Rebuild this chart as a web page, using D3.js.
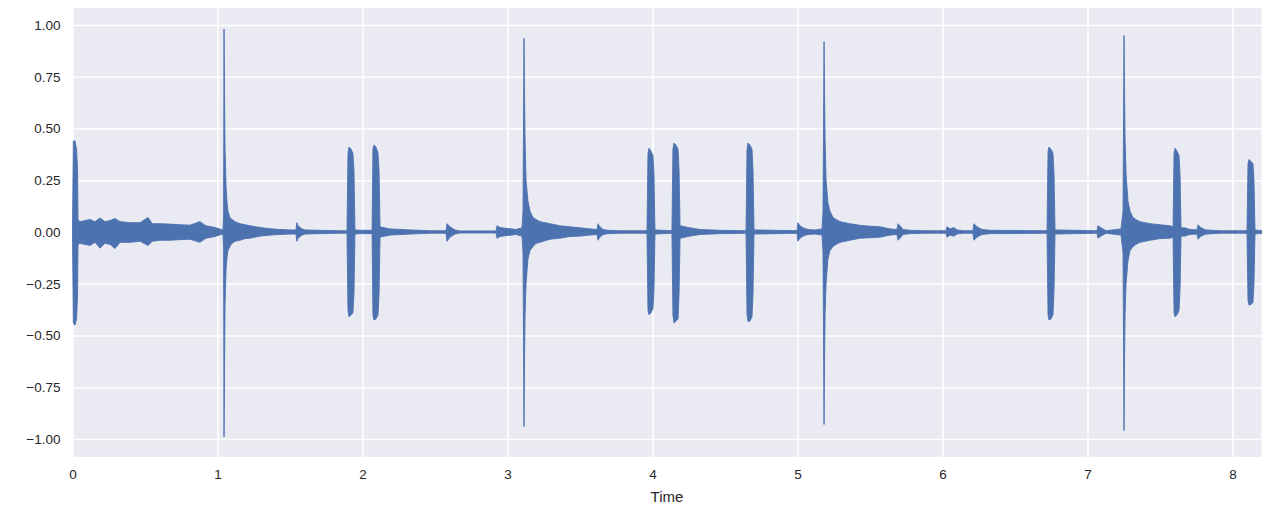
<!DOCTYPE html>
<html>
<head>
<meta charset="utf-8">
<script src="https://cdn.jsdelivr.net/npm/d3@7"></script>
<style>
  html, body { margin: 0; padding: 0; background: #ffffff; }
  svg { display: block; }
  text { font-family: "Liberation Sans", Arial, sans-serif; fill: #262626; }
</style>
</head>
<body>
<svg id="chart" width="1262" height="507"></svg>
<script>
// ---- data ----
const xTicks = [0, 1, 2, 3, 4, 5, 6, 7, 8];
const yTicks = [-1.0, -0.75, -0.5, -0.25, 0.0, 0.25, 0.5, 0.75, 1.0];
const xLabel = "Time";

// envelope of the waveform: time (s), upper and lower amplitude
const envTime = [
  0.000, 0.006, 0.017, 0.028, 0.035, 0.038, 0.052, 0.086, 0.121, 0.155, 0.190, 0.224, 0.259, 0.293, 0.328, 0.397, 0.466, 0.521, 0.550, 0.603, 0.672, 0.741, 0.810, 0.879, 0.920, 0.983, 1.024, 1.038,
  1.042, 1.045, 1.048, 1.052, 1.059, 1.066, 1.072, 1.086, 1.100, 1.121, 1.155, 1.190, 1.224, 1.293, 1.362, 1.431, 1.500, 1.541, 1.548, 1.555, 1.583, 1.603, 1.707, 1.845, 1.893,
  1.900, 1.907, 1.921, 1.934, 1.941, 1.948, 1.983, 2.066,
  2.072, 2.079, 2.093, 2.107, 2.114, 2.121, 2.190, 2.328, 2.466, 2.576, 2.583, 2.603, 2.638, 2.672, 2.921, 2.928, 2.948, 2.983, 3.031, 3.059, 3.100,
  3.107, 3.114, 3.117, 3.121, 3.128, 3.141, 3.155, 3.176, 3.197, 3.224, 3.293, 3.362, 3.431, 3.500, 3.569, 3.617, 3.624, 3.631, 3.659, 3.693, 3.776, 3.962,
  3.969, 3.976, 3.990, 4.003, 4.010, 4.017, 4.134,
  4.141, 4.148, 4.162, 4.176, 4.183, 4.190, 4.259, 4.328, 4.466, 4.645,
  4.652, 4.659, 4.672, 4.686, 4.693, 4.700, 4.997, 5.003, 5.017, 5.038, 5.072, 5.121, 5.169,
  5.176, 5.183, 5.186, 5.190, 5.197, 5.210, 5.224, 5.245, 5.266, 5.293, 5.362, 5.431, 5.500, 5.569, 5.638, 5.686, 5.693, 5.707, 5.728, 5.776, 5.879,
  6.024, 6.031, 6.052, 6.072, 6.079, 6.100, 6.141, 6.210, 6.217, 6.238, 6.272, 6.328, 6.534, 6.721,
  6.728, 6.734, 6.748, 6.762, 6.769, 6.776, 7.066, 7.072, 7.093, 7.128, 7.231,
  7.245, 7.252, 7.255, 7.259, 7.266, 7.279, 7.293, 7.314, 7.334, 7.362, 7.431, 7.500, 7.569, 7.590,
  7.597, 7.604, 7.617, 7.631, 7.638, 7.645, 7.672, 7.707, 7.755, 7.762, 7.783, 7.817, 7.914, 8.100,
  8.107, 8.114, 8.128, 8.141, 8.148, 8.155, 8.203
];
const envUpper = [
  0.020, 0.440, 0.440, 0.400, 0.300, 0.060, 0.050, 0.055, 0.060, 0.050, 0.068, 0.050, 0.055, 0.065, 0.050, 0.045, 0.045, 0.070, 0.040, 0.040, 0.038, 0.035, 0.033, 0.050, 0.030, 0.022, 0.012, 0.010,
  0.080, 0.980, 0.700, 0.400, 0.220, 0.140, 0.100, 0.070, 0.060, 0.050, 0.040, 0.035, 0.030, 0.022, 0.016, 0.012, 0.010, 0.010, 0.045, 0.030, 0.015, 0.010, 0.008, 0.006, 0.006,
  0.380, 0.410, 0.400, 0.380, 0.300, 0.010, 0.008, 0.008,
  0.400, 0.420, 0.410, 0.380, 0.300, 0.025, 0.015, 0.010, 0.006, 0.006, 0.040, 0.025, 0.010, 0.005, 0.005, 0.030, 0.022, 0.018, 0.015, 0.012, 0.020,
  0.100, 0.935, 0.700, 0.450, 0.250, 0.150, 0.100, 0.070, 0.060, 0.050, 0.040, 0.030, 0.025, 0.020, 0.015, 0.012, 0.040, 0.030, 0.012, 0.008, 0.006, 0.006,
  0.380, 0.405, 0.390, 0.370, 0.280, 0.010, 0.006,
  0.400, 0.430, 0.420, 0.400, 0.300, 0.030, 0.020, 0.012, 0.008, 0.006,
  0.400, 0.430, 0.420, 0.400, 0.300, 0.010, 0.006, 0.045, 0.030, 0.020, 0.012, 0.010, 0.015,
  0.100, 0.920, 0.700, 0.450, 0.250, 0.140, 0.100, 0.070, 0.060, 0.050, 0.040, 0.032, 0.028, 0.025, 0.015, 0.012, 0.040, 0.030, 0.012, 0.008, 0.006,
  0.006, 0.025, 0.015, 0.020, 0.020, 0.010, 0.006, 0.006, 0.040, 0.025, 0.012, 0.008, 0.007, 0.006,
  0.390, 0.410, 0.400, 0.380, 0.280, 0.010, 0.006, 0.030, 0.020, 0.006, 0.015,
  0.100, 0.950, 0.700, 0.450, 0.280, 0.150, 0.100, 0.070, 0.060, 0.050, 0.040, 0.035, 0.030, 0.025,
  0.380, 0.405, 0.390, 0.370, 0.280, 0.020, 0.020, 0.012, 0.010, 0.035, 0.020, 0.010, 0.006, 0.006,
  0.330, 0.350, 0.340, 0.330, 0.250, 0.010, 0.006
];
const envLower = [
  -0.020, -0.440, -0.450, -0.420, -0.300, -0.060, -0.055, -0.060, -0.065, -0.050, -0.078, -0.055, -0.060, -0.080, -0.050, -0.050, -0.045, -0.065, -0.045, -0.040, -0.040, -0.037, -0.035, -0.050, -0.030, -0.022, -0.012, -0.010,
  -0.080, -0.990, -0.700, -0.350, -0.180, -0.120, -0.090, -0.070, -0.055, -0.045, -0.040, -0.032, -0.030, -0.020, -0.015, -0.012, -0.010, -0.010, -0.045, -0.030, -0.015, -0.010, -0.008, -0.006, -0.006,
  -0.380, -0.410, -0.400, -0.390, -0.300, -0.010, -0.008, -0.008,
  -0.400, -0.425, -0.420, -0.400, -0.300, -0.025, -0.015, -0.010, -0.006, -0.006, -0.045, -0.025, -0.010, -0.005, -0.005, -0.030, -0.022, -0.018, -0.015, -0.012, -0.020,
  -0.100, -0.940, -0.650, -0.400, -0.250, -0.130, -0.090, -0.070, -0.055, -0.050, -0.035, -0.030, -0.022, -0.020, -0.015, -0.012, -0.040, -0.030, -0.012, -0.008, -0.006, -0.006,
  -0.380, -0.400, -0.390, -0.370, -0.280, -0.010, -0.006,
  -0.400, -0.440, -0.430, -0.420, -0.300, -0.030, -0.020, -0.012, -0.008, -0.006,
  -0.400, -0.433, -0.430, -0.410, -0.300, -0.010, -0.006, -0.045, -0.030, -0.020, -0.012, -0.010, -0.015,
  -0.100, -0.930, -0.650, -0.400, -0.250, -0.130, -0.090, -0.070, -0.060, -0.050, -0.040, -0.030, -0.028, -0.025, -0.015, -0.012, -0.040, -0.030, -0.012, -0.008, -0.006,
  -0.006, -0.025, -0.015, -0.020, -0.020, -0.010, -0.006, -0.006, -0.040, -0.025, -0.012, -0.008, -0.007, -0.006,
  -0.400, -0.425, -0.420, -0.400, -0.280, -0.010, -0.006, -0.030, -0.020, -0.006, -0.015,
  -0.100, -0.960, -0.650, -0.400, -0.250, -0.140, -0.090, -0.070, -0.060, -0.050, -0.040, -0.032, -0.030, -0.025,
  -0.390, -0.410, -0.400, -0.380, -0.280, -0.020, -0.020, -0.012, -0.010, -0.035, -0.020, -0.010, -0.006, -0.006,
  -0.330, -0.353, -0.350, -0.340, -0.250, -0.010, -0.006
];

// ---- layout ----
const margin = { left: 72.5, right: 0.5, top: 8, bottom: 50 };
const W = 1262, H = 507;
const svg = d3.select("#chart");

const x = d3.scaleLinear().domain([0, 8.2]).range([margin.left, W - margin.right]);
const y = d3.scaleLinear().domain([-1.087, 1.082]).range([H - margin.bottom, margin.top]);

// background
svg.append("rect")
  .attr("x", x.range()[0]).attr("y", margin.top)
  .attr("width", x.range()[1] - x.range()[0])
  .attr("height", (H - margin.bottom) - margin.top)
  .attr("fill", "#EAEAF2");

// gridlines via axes
const gx = svg.append("g")
  .attr("transform", `translate(0,${H - margin.bottom})`)
  .call(d3.axisBottom(x).tickValues(xTicks).tickFormat(d3.format("d"))
    .tickSize(-(H - margin.bottom - margin.top)).tickPadding(12));
gx.select(".domain").remove();
gx.selectAll(".tick line").attr("stroke", "#ffffff").attr("stroke-width", 1.6);
gx.selectAll(".tick text").style("font-size", "13.5px").attr("fill", "#262626");

const gy = svg.append("g")
  .attr("transform", `translate(${margin.left},0)`)
  .call(d3.axisLeft(y).tickValues(yTicks).tickFormat(d3.format(".2f"))
    .tickSize(-(x.range()[1] - x.range()[0])).tickPadding(12));
gy.select(".domain").remove();
gy.selectAll(".tick line").attr("stroke", "#ffffff").attr("stroke-width", 1.6);
gy.selectAll(".tick text").style("font-size", "13.5px").attr("fill", "#262626");

// waveform envelope
const env = envTime.map((t, i) => ({ t, hi: envUpper[i], lo: envLower[i] }));
const area = d3.area()
  .x(d => x(d.t))
  .y0(d => y(d.lo))
  .y1(d => y(d.hi));

svg.append("path")
  .datum(env)
  .attr("d", area)
  .attr("fill", "#4C72B0")
  .attr("stroke", "#4C72B0")
  .attr("stroke-width", 0.9)
  .attr("stroke-linejoin", "round");

// x label
svg.append("text")
  .attr("x", (x.range()[0] + x.range()[1]) / 2)
  .attr("y", 502)
  .attr("text-anchor", "middle")
  .style("font-size", "15px")
  .text(xLabel);
</script>
</body>
</html>
